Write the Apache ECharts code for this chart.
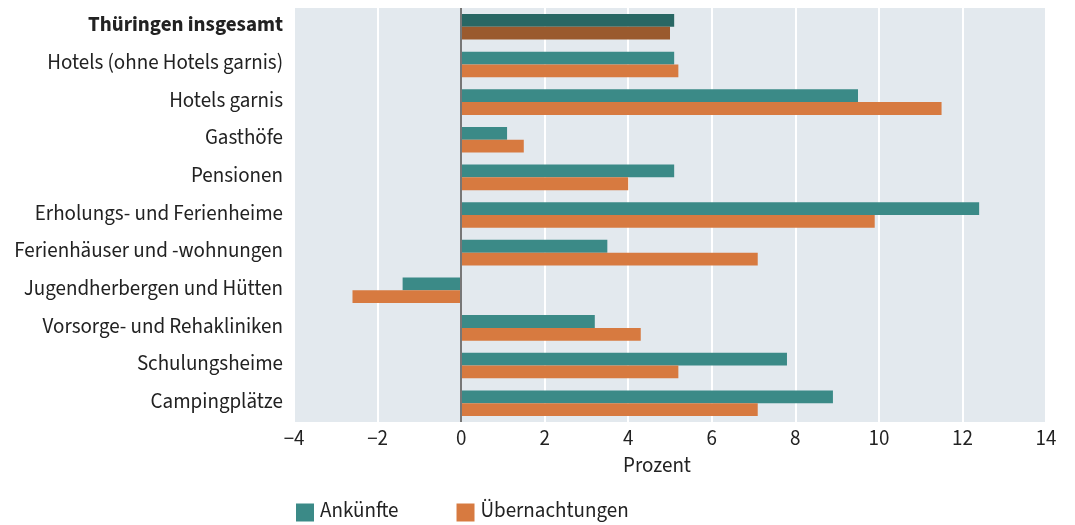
<!DOCTYPE html>
<html><head><meta charset="utf-8">
<script src="https://cdn.jsdelivr.net/npm/echarts@6/dist/echarts.min.js"></script>
<style>html,body{margin:0;padding:0;background:#fff}#c{width:1075px;height:525px}</style>
</head><body><div id="c"></div>
<script>
const categories = ["Thüringen insgesamt","Hotels (ohne Hotels garnis)","Hotels garnis","Gasthöfe","Pensionen","Erholungs- und Ferienheime","Ferienhäuser und -wohnungen","Jugendherbergen und Hütten","Vorsorge- und Rehakliniken","Schulungsheime","Campingplätze"];
const ankuenfte = [5.1, 5.1, 9.5, 1.1, 5.1, 12.4, 3.5, -1.4, 3.2, 7.8, 8.9];
const uebernachtungen = [5.0, 5.2, 11.5, 1.5, 4.0, 9.9, 7.1, -2.6, 4.3, 5.2, 7.1];
const xTicks = [-4, -2, 0, 2, 4, 6, 8, 10, 12, 14];

const FONT = "'Source Sans Pro','Source Sans 3','Lato','Noto Sans',sans-serif";
const FS = 21;
const TEAL = '#3b8a87', TEAL_D = '#286764', ORANGE = '#d77a40', ORANGE_D = '#9a5a2e';

function mk(arr, c, cd) {
  return arr.map((v, i) => i === 0 ? { value: v, itemStyle: { color: cd } } : v);
}
const chart = echarts.init(document.getElementById('c'));
chart.setOption({
  animation: false,
  textStyle: { fontFamily: FONT },
  grid: { left: 294, right: 29, top: 8, bottom: 103, show: true, backgroundColor: '#e3e9ee', borderWidth: 0 },
  xAxis: {
    type: 'value', min: xTicks[0], max: xTicks[xTicks.length - 1], interval: 2,
    axisLine: { show: false }, axisTick: { show: false },
    splitLine: { show: true, lineStyle: { color: '#ffffff', width: 2 } },
    axisLabel: { fontSize: FS, color: '#222', margin: 8, fontFamily: FONT,
      formatter: v => (v < 0 ? '\u2212' + Math.abs(v) : '' + v) },
    name: 'Prozent', nameLocation: 'middle', nameGap: 35,
    nameTextStyle: { fontSize: FS, color: '#222', fontFamily: FONT, padding: [0, 26, 0, 0] }
  },
  yAxis: {
    type: 'category', data: categories, inverse: true,
    axisLine: { show: false }, axisTick: { show: false }, splitLine: { show: false },
    axisLabel: { fontSize: FS, color: '#222', margin: 11, fontFamily: FONT,
      formatter: (v, i) => i === 0 ? '{b|' + v + '}' : v,
      rich: { b: { fontWeight: 'bold', fontSize: FS, color: '#222', fontFamily: FONT } } }
  },
  legend: {
    left: 296, top: 502, padding: 0, itemWidth: 18, itemHeight: 18, itemGap: 58,
    icon: 'rect', textStyle: { fontSize: FS, color: '#222', fontFamily: FONT, padding: [0, 0, 0, 1] },
    data: ['Ankünfte', 'Übernachtungen']
  },
  series: [
    { name: 'Ankünfte', type: 'bar', data: mk(ankuenfte, TEAL, TEAL_D), itemStyle: { color: TEAL },
      barGap: '0%', barCategoryGap: '32%',
      markLine: { silent: true, symbol: 'none', label: { show: false },
        lineStyle: { color: '#777', width: 2, type: 'solid' }, data: [{ xAxis: 0 }] } },
    { name: 'Übernachtungen', type: 'bar', data: mk(uebernachtungen, ORANGE, ORANGE_D), itemStyle: { color: ORANGE },
      barGap: '0%', barCategoryGap: '32%' }
  ]
});
</script></body></html>
